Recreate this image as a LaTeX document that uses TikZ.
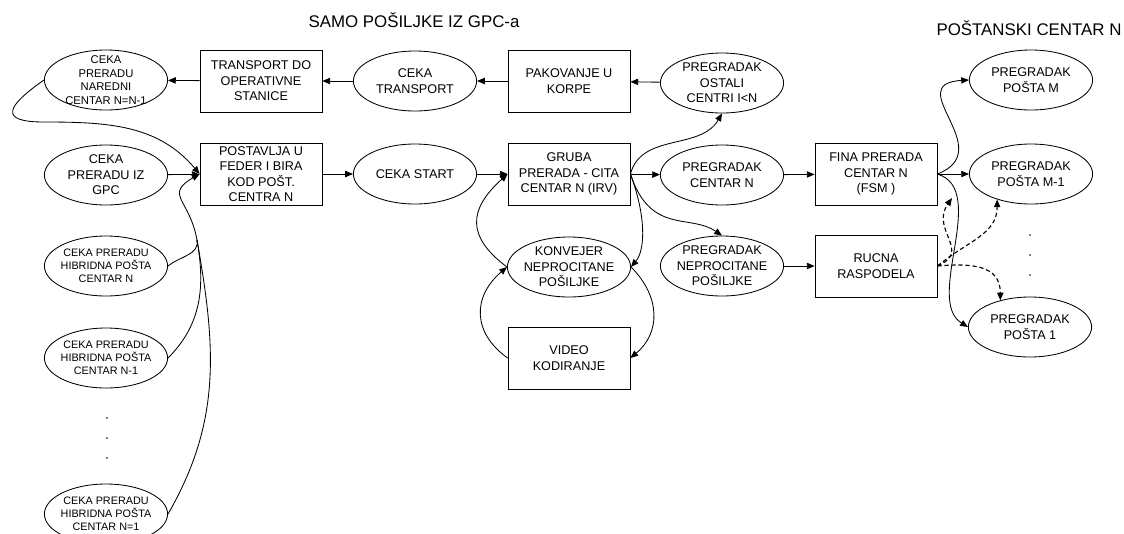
\documentclass[tikz,border=0pt]{standalone}
\usepackage{fontspec}
\setmainfont{Liberation Sans}
\usetikzlibrary{arrows.meta,shapes.geometric}

\begin{document}
\begin{tikzpicture}[>={Triangle[length=5.5pt,width=4.5pt]}, line width=0.6pt,
        kutija/.style={draw, rectangle, minimum width=3.05cm, minimum height=1.55cm,
            inner sep=0pt, align=center, font=\fontsize{9}{11}\selectfont},
        elipsa/.style={draw, ellipse, minimum width=3.08cm, minimum height=1.5cm,
            inner xsep=-4pt, inner ysep=-8pt, align=center, font=\fontsize{9}{11}\selectfont},
        mala/.style={elipsa, font=\fontsize{7.7}{9.1}\selectfont},
        isprek/.style={->, dash pattern=on 3pt off 2pt, line width=0.8pt}]

        \useasboundingbox (0,0) rectangle (28.1,-13.325);

        % ==================== 标题 ====================
        \node[font=\fontsize{12}{14}\selectfont] (naslov) at (10.35,-0.5) {SAMO POŠILJKE IZ GPC-a};
        \node[font=\fontsize{12}{14}\selectfont] (centar) at (25.725,-0.7) {POŠTANSKI CENTAR N};

        % ==================== 第一行 ====================
        \node[elipsa, font=\fontsize{8}{9.7}\selectfont] (nar) at (2.65,-2.0) {CEKA\\PRERADU\\NAREDNI\\CENTAR N=N-1};
        \node[kutija] (trans) at (6.525,-2.025) {TRANSPORT DO\\OPERATIVNE\\STANICE};
        \node[elipsa] (cekatr) at (10.375,-2.025) {CEKA\\TRANSPORT};
        \node[kutija] (pak) at (14.225,-2.025) {PAKOVANJE U\\KORPE};
        \node[elipsa] (ostali) at (18.05,-2.075) {PREGRADAK\\OSTALI\\CENTRI I<N};
        \node[elipsa] (postam) at (25.775,-2.0) {PREGRADAK\\POŠTA M};

        % ==================== 第二行 ====================
        \node[elipsa] (gpc) at (2.65,-4.375) {CEKA\\PRERADU IZ\\GPC};
        \node[kutija] (postav) at (6.525,-4.35) {POSTAVLJA U\\FEDER I BIRA\\KOD POŠT.\\CENTRA N};
        \node[elipsa] (start) at (10.375,-4.35) {CEKA START};
        \node[kutija] (gruba) at (14.225,-4.35) {GRUBA\\PRERADA - CITA\\CENTAR N (IRV)};
        \node[elipsa] (centarn) at (18.05,-4.375) {PREGRADAK\\CENTAR N};
        \node[kutija] (fina) at (21.9,-4.35) {FINA PRERADA\\CENTAR N\\(FSM )};
        \node[elipsa] (postam1) at (25.775,-4.35) {PREGRADAK\\POŠTA M-1};

        % ==================== 下面几行 ====================
        \node[mala] (hibn) at (2.65,-6.65) {CEKA PRERADU\\HIBRIDNA POŠTA\\CENTAR N};
        \node[elipsa] (konv) at (14.225,-6.675) {KONVEJER\\NEPROCITANE\\POŠILJKE};
        \node[elipsa] (neproc) at (18.05,-6.65) {PREGRADAK\\NEPROCITANE\\POŠILJKE};
        \node[kutija] (rucna) at (21.9,-6.65) {RUCNA\\RASPODELA};
        \node[elipsa] (posta1) at (25.75,-8.175) {PREGRADAK\\POŠTA 1};
        \node[mala] (hibn1) at (2.65,-8.95) {CEKA PRERADU\\HIBRIDNA POŠTA\\CENTAR N-1};
        \node[kutija] (video) at (14.225,-8.95) {VIDEO\\KODIRANJE};
        \node[mala] (hib1) at (2.65,-12.85) {CEKA PRERADU\\HIBRIDNA POŠTA\\CENTAR N=1};

        % 省略号
        \foreach \y in {-5.875,-6.375,-6.875} \fill (25.75,\y) circle (0.6pt);
        \foreach \y in {-10.45,-10.95,-11.45} \fill (2.675,\y) circle (0.6pt);

        % ==================== 直线箭头 ====================
        \draw[->] (ostali) -- (pak);
        \draw[->] (pak) -- (cekatr);
        \draw[->] (cekatr) -- (trans);
        \draw[->] (trans) -- (nar);
        \draw[->] (gpc) -- (postav);
        \draw[->] (postav) -- (start);
        \draw[->] (start) -- (gruba);
        \draw[->] (gruba) -- (centarn);
        \draw[->] (centarn) -- (fina);
        \draw[->] (fina.east) -- (postam1.west);
        \draw[->] (neproc) -- (rucna);

        % ==================== 曲线 ====================
        % 下一个中心 -> 放入分拣机
        \draw[->] (nar.west) to[out=215,in=180,looseness=2.8] ++(0,-1.05)
            to[out=0,in=130] (postav.west);

        % 混合邮件汇合到一点
        \coordinate (spoj) at (4.925,-6.0);
        \draw (hibn.east) to[out=40,in=-80] (spoj);
        \draw (hibn1.east) to[out=45,in=-80] (spoj);
        \draw (hib1.east) to[out=60,in=-80] (spoj);
        \draw[->] (spoj) to[out=100,in=210,looseness=1.6] (postav.west);

        % 粗分拣的出口
        \draw[->] (gruba.east) to[out=75,in=240] (ostali.south);
        \draw[->] (gruba.east) .. controls +(0.5,-1.525) and +(-0.8,0.55) .. (neproc.north);
        \draw[->] (gruba.east) .. controls +(0.375,-1.0) and +(0.375,0.45) .. (konv.east);

        % 传送带 <-> 视频编码
        \draw[->] (konv.west) .. controls +(-1.0,0.75) and +(-1.0,-0.9) .. (gruba.west);
        \draw[->] (konv.east) .. controls +(0.75,-0.75) and +(0.75,0.625) .. (video.east);
        \draw[->] (video.west) .. controls +(-0.875,0.625) and +(-0.875,-0.75) .. (konv.west);

        % 精分拣 -> 邮局格口
        \draw[->] (fina.east) .. controls +(1.55,0.6) and +(-1.725,-0.1) .. (postam.west);
        \draw[->] (fina.east) .. controls +(1.3,-0.4) and +(-1.1,0.675) .. (posta1.west);

        % 手工分配 (虚线)
        \coordinate (rucnakraj) at (23.8,-4.95);
        \draw[isprek] (rucna.east) .. controls +(0.75,0.625) and +(0,-0.875) .. (postam1.217);
        \draw[isprek] (rucna.east) .. controls +(0.875,0.075) and +(0,0.875) .. (posta1.138);
        \draw[isprek] (rucna.east) .. controls +(0.875,0.375) and +(-0.55,-0.8) .. (rucnakraj);

    \end{tikzpicture}
\end{document}
